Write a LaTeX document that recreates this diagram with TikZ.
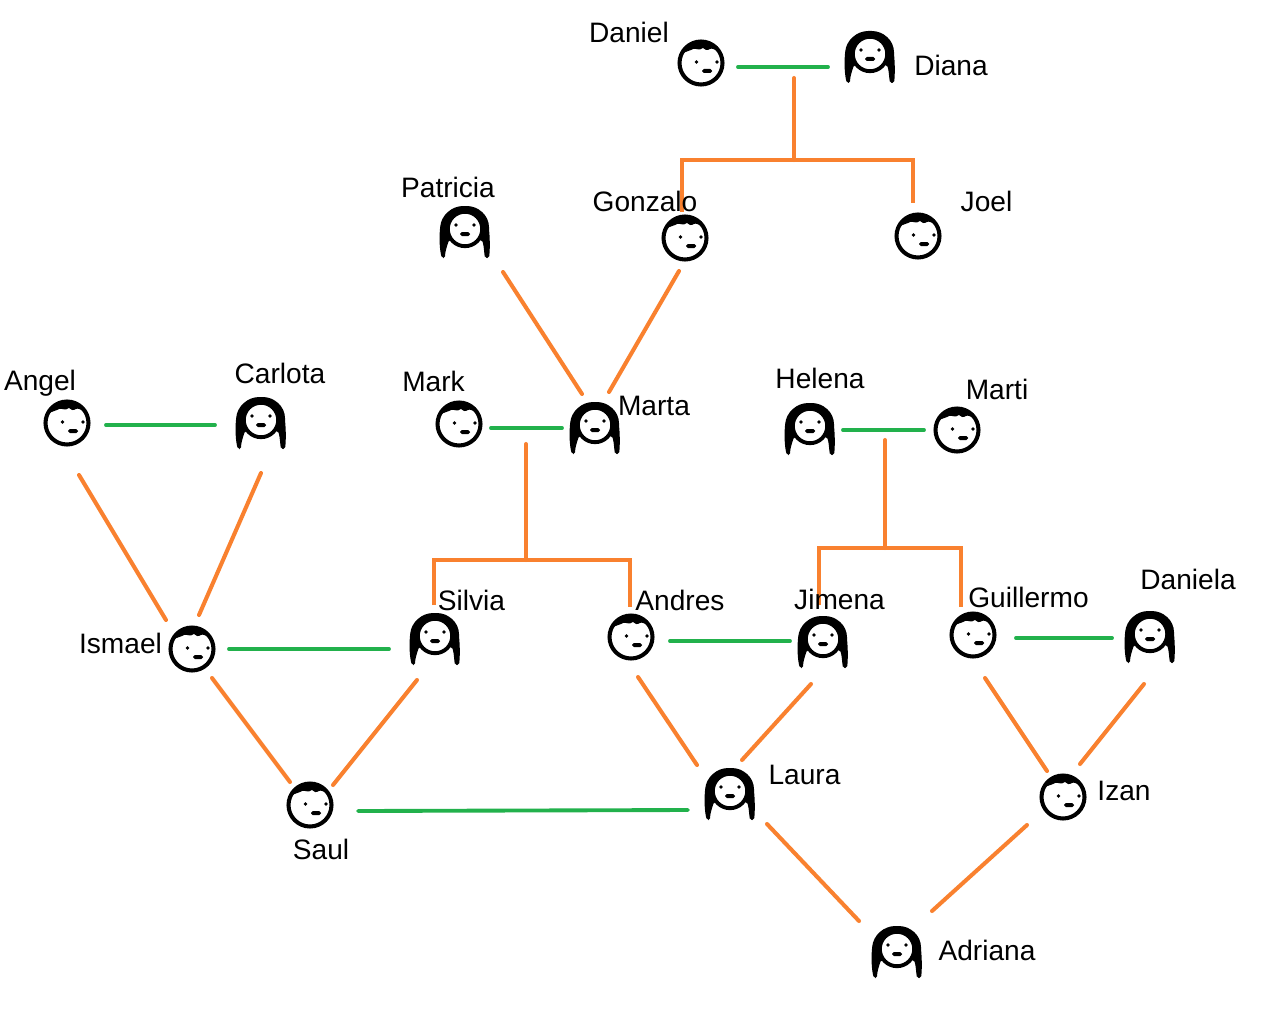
\documentclass[tikz,border=0pt]{standalone}
\usepackage{fontspec}
\setmainfont{Liberation Sans}
\definecolor{kinorange}{HTML}{F9812F}
\definecolor{kingreen}{HTML}{22B14C}
\tikzset{
  x=0.02cm,y=-0.02cm,
  facebox/.style={circle,minimum size=0.92cm,inner sep=0pt,outer sep=0pt},
  who/.style={font=\fontsize{16}{18}\selectfont,inner sep=0pt,text=black},
  couple/.style={draw=kingreen,line width=2.2pt,line cap=round},
  kin/.style={draw=kinorange,line width=2.3pt,line cap=round,line join=miter},
  male/.pic={
    \draw[black,line width=2.3pt,fill=white] (0,0) circle (21.5);
    \fill[black] (-19,-9) .. controls (-14,-19) and (-6,-22) .. (1,-22)
       .. controls (8,-22) and (14,-19) .. (18,-10)
       .. controls (14,-14) and (11,-15) .. (9,-14)
       .. controls (6,-12) and (4,-13) .. (2,-15)
       .. controls (-2,-12) and (-5,-15) .. (-8,-14)
       .. controls (-11,-12) and (-15,-12) .. cycle;
    \fill[black] (-4.5,-1) circle (1.9) (16,-1) circle (1.9);
    \fill[black,rounded corners=1] (1,6) rectangle (11,10);
  },
  female/.pic={
    \fill[black,rounded corners=1] (-22,26) .. controls (-24,20) and (-25,8) .. (-24,-3)
       .. controls (-23,-17) and (-12,-26) .. (1,-26)
       .. controls (14,-26) and (25,-17) .. (25,-3)
       .. controls (26,8) and (26,18) .. (25,26) -- (21,26)
       .. controls (20,20) and (20,14) .. (18,8) -- (-15,8)
       .. controls (-17,14) and (-19,20) .. (-19,26) -- cycle;
    \draw[black,line width=2.2pt,fill=white] (1,-3) circle (17.2);
    \fill[black] (-8,-7) circle (1.9) (10,-7) circle (1.9);
    \fill[black,rounded corners=1] (-4,0) rectangle (6,4);
  }
}
\newcommand{\boy}[3]{\node[facebox] (#1) at (#2,#3) {}; \pic at (#1) {male};}
\newcommand{\girl}[3]{\node[facebox] (#1) at (#2,#3) {}; \pic at (#1) {female};}
\newcommand{\tag}[4]{\node[who] (#1) at (#2,#3) {#4};}
\newcommand{\link}[5]{\draw[#1] ([shift={(#3)}]#2.center) -- ([shift={(#5)}]#4.center);}
\begin{document}
\begin{tikzpicture}
\useasboundingbox (0,0) rectangle (1280,1034);
\fill[white] (0,0) rectangle (1280,1034);
% people
\boy{daniel}{701}{63}
\girl{diana}{869}{57}
\girl{patricia}{464}{232}
\boy{gonzalo}{685}{238}
\boy{joel}{918}{236}
\boy{angel}{67}{423}
\girl{carlota}{260}{423}
\boy{mark}{459}{424}
\girl{marta}{594}{428}
\girl{helena}{809}{429}
\boy{marti}{957}{430}
\boy{ismael}{192}{649}
\girl{silvia}{434}{639}
\boy{andres}{631}{637}
\girl{jimena}{822}{642}
\boy{guillermo}{973}{635}
\girl{daniela}{1149}{637}
\boy{saul}{310}{805}
\girl{laura}{729}{794}
\boy{izan}{1063}{797}
\girl{adriana}{896}{952}
% couples
\link{couple}{daniel}{37,4}{diana}{-41,10}
\link{couple}{angel}{39,2}{carlota}{-45,2}
\link{couple}{mark}{32,4}{marta}{-32,0}
\link{couple}{helena}{34,1}{marti}{-33,0}
\link{couple}{ismael}{37,0}{silvia}{-45,10}
\link{couple}{andres}{39,4}{jimena}{-32,-1}
\link{couple}{guillermo}{43,3}{daniela}{-37,1}
\link{couple}{saul}{48,6}{laura}{-41,16}
% parents to children
\link{kin}{patricia}{39,40}{marta}{-12,-34}
\link{kin}{gonzalo}{-6,33}{marta}{15,-36}
\link{kin}{angel}{12,52}{ismael}{-26,-29}
\link{kin}{carlota}{1,50}{ismael}{7,-34}
\link{kin}{ismael}{20,29}{saul}{-20,-23}
\link{kin}{silvia}{-17,41}{saul}{23,-20}
\link{kin}{andres}{7,40}{laura}{-32,-29}
\link{kin}{jimena}{-11,42}{laura}{13,-34}
\link{kin}{guillermo}{12,43}{izan}{-16,-26}
\link{kin}{daniela}{-5,47}{izan}{17,-33}
\link{kin}{laura}{38,30}{adriana}{-37,-31}
\link{kin}{izan}{-36,28}{adriana}{36,-41}
% sibling buses
\coordinate (stemA) at (794,78);
\coordinate (busA) at (794,160);
\draw[kin] (stemA) -- (busA);
\draw[kin,line cap=butt] ([shift={(-3,-26)}]gonzalo.center) |- (busA) -| ([shift={(-5,-33)}]joel.center);
\coordinate (stemB) at (526,444);
\coordinate (busB) at (526,560);
\draw[kin] (stemB) -- (busB);
\draw[kin,line cap=butt] ([shift={(0,-34)}]silvia.center) |- (busB) -| ([shift={(-1,-30)}]andres.center);
\coordinate (stemC) at (885,440);
\coordinate (busC) at (885,548);
\draw[kin] (stemC) -- (busC);
\draw[kin,line cap=butt] ([shift={(-3,-37)}]jimena.center) |- (busC) -| ([shift={(-12,-28)}]guillermo.center);
% names
\tag{tdaniel}{629}{32}{Daniel}
\tag{tdiana}{951}{65}{Diana}
\tag{tpatricia}{448}{187}{Patricia}
\tag{tgonzalo}{645}{201}{Gonzalo}
\tag{tjoel}{986.5}{201.5}{Joel}
\tag{tangel}{40}{383}{Angel}
\tag{tcarlota}{280}{373}{Carlota}
\tag{tmark}{433.5}{381}{Mark}
\tag{tmarta}{654}{406}{Marta}
\tag{thelena}{820}{378.5}{Helena}
\tag{tmarti}{997}{389.5}{Marti}
\tag{tismael}{120.5}{643}{Ismael}
\tag{tsilvia}{471.5}{600}{Silvia}
\tag{tandres}{680}{600.5}{Andres}
\tag{tjimena}{839.5}{599}{Jimena}
\tag{tguillermo}{1028.5}{597}{Guillermo}
\tag{tdaniela}{1188}{579.5}{Daniela}
\tag{tlaura}{804.5}{774.5}{Laura}
\tag{tizan}{1124}{790.5}{Izan}
\tag{tsaul}{321}{849}{Saul}
\tag{tadriana}{987}{950}{Adriana}
\end{tikzpicture}
\end{document}
